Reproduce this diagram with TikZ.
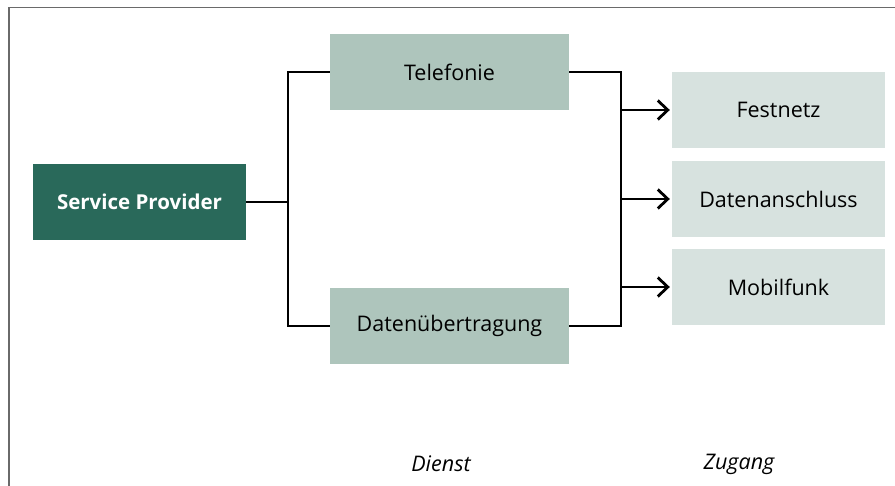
\documentclass[tikz,border=0pt]{standalone}
\usepackage{fontspec}
\setmainfont{Open Sans}
\usetikzlibrary{arrows.meta}
\definecolor{provider}{HTML}{29695A}
\definecolor{dienst}{HTML}{AEC5BC}
\definecolor{zugang}{HTML}{D7E2DF}
\definecolor{frame}{HTML}{6A6A6A}
\tikzset{
  labelfont/.style={font=\fontsize{21.5}{24}\selectfont},
  box/.style={minimum width=#1, minimum height=76pt, inner sep=0pt, labelfont},
  provbox/.style={box=213pt, fill=provider, text=white, font=\fontsize{20.5}{24}\selectfont\bfseries},
  dienstbox/.style={box=239pt, fill=dienst},
  zugangbox/.style={box=213pt, fill=zugang},
  thin line/.style={line width=1.8pt},
  thick line/.style={line width=2.6pt},
  arr/.style={thick line, -{Straight Barb[length=10pt, width=19pt, line width=2.8pt]}},
  caption/.style={font=\fontsize{21.5}{24}\selectfont\itshape},
}
\begin{document}
\begin{tikzpicture}[x=1pt, y=-1pt]
\useasboundingbox (0,0) rectangle (895,486);
% open frame: top and left edges
\draw[frame, line width=1.8pt] (9,486) -- (9,7.5) -- (895,7.5);

% nodes
\node[provbox]  (sp)   at (139.5,202) {Service Provider};
\node[dienstbox] (tel) at (449.5,72)  {Telefonie};
\node[dienstbox] (dat) at (449.5,326) {Datenübertragung};
\node[zugangbox] (fest) at (778.5,110) {Festnetz};
\node[zugangbox] (anschl) at (778.5,199) {Datenanschluss};
\node[zugangbox] (mobil) at (778.5,287) {Mobilfunk};

% provider fans out to the two services
\coordinate (lb) at (288,202);
\draw[thin line] (sp.east) -- (lb);
\draw[thin line] (tel.west) -| (lb) |- (dat.west);

% services join into one access bus
\coordinate (rb) at (621,110);
\draw[thick line] (tel.east) -| (rb) |- (dat.east);
\draw[arr] (rb) -- ([xshift=-2pt]fest.west);
\draw[arr] (rb |- anschl.west) -- ([xshift=-2pt]anschl.west);
\draw[arr] (rb |- mobil.west) -- ([xshift=-2pt]mobil.west);

% column captions
\node[caption] (capd) at (441,464) {Dienst};
\node[caption] (capz) at (739,464) {Zugang};
\end{tikzpicture}
\end{document}
